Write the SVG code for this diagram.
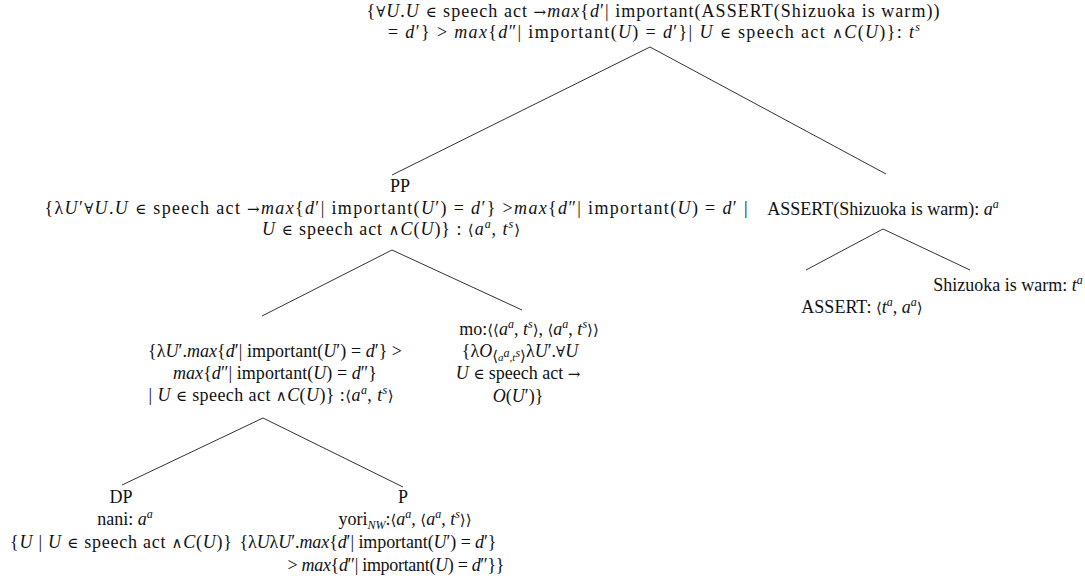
<svg xmlns="http://www.w3.org/2000/svg" width="1085" height="588" viewBox="0 0 1085 588">
<style>
text{font-family:"Liberation Serif","Times New Roman",serif;font-size:18px;fill:#111;text-anchor:middle}
.r{font-family:"Liberation Serif";font-style:normal}
.i{font-family:"Liberation Serif";font-style:italic}
.m{font-family:"DejaVu Serif",serif;font-size:15px;font-style:normal}
.sp{font-family:"Liberation Serif";font-size:12px;font-style:italic}
.sb{font-size:12px}
.edges line{stroke:#333;stroke-width:1}
</style>
<rect width="1085" height="588" fill="#fff"/>
<g class="edges" id="connectors">
<line x1="650" y1="47" x2="392" y2="175"/>
<line x1="650" y1="47" x2="886" y2="174"/>
<line x1="392" y1="250" x2="262" y2="316"/>
<line x1="392" y1="250" x2="522" y2="310"/>
<line x1="883" y1="229" x2="806" y2="270"/>
<line x1="883" y1="229" x2="970" y2="270"/>
<line x1="263" y1="418" x2="122" y2="485"/>
<line x1="263" y1="418" x2="403" y2="487"/>
</g>
<g id="root">
<text x="653" y="17" textLength="573">{<tspan class="m">∀</tspan><tspan class="i">U</tspan>.<tspan class="i">U</tspan> <tspan class="m">∈</tspan><tspan class="r"> speech act </tspan><tspan class="m">→</tspan><tspan class="i">max</tspan><tspan class="r">{</tspan><tspan class="i">d</tspan><tspan class="r">′| important(ASSERT(Shizuoka is warm))</tspan></text>
<text x="654" y="38" textLength="532">= <tspan class="i">d</tspan>′} &gt; <tspan class="i">max</tspan>{<tspan class="i">d</tspan>″| important(<tspan class="i">U</tspan>) = <tspan class="i">d</tspan>′}| <tspan class="i">U</tspan> <tspan class="m">∈</tspan><tspan class="r"> speech act </tspan><tspan class="m">∧</tspan><tspan class="i">C</tspan><tspan class="r">(</tspan><tspan class="i">U</tspan><tspan class="r">)}: </tspan><tspan class="i">t</tspan><tspan class="sp" dy="-7">s</tspan></text>
</g>
<g id="pp">
<text x="400" y="192">PP</text>
<text x="396" y="214" textLength="703">{λ<tspan class="i">U</tspan>′<tspan class="m">∀</tspan><tspan class="i">U</tspan>.<tspan class="i">U</tspan> <tspan class="m">∈</tspan><tspan class="r"> speech act </tspan><tspan class="m">→</tspan><tspan class="i">max</tspan><tspan class="r">{</tspan><tspan class="i">d</tspan><tspan class="r">′| important(</tspan><tspan class="i">U</tspan><tspan class="r">′) = </tspan><tspan class="i">d</tspan><tspan class="r">′} &gt;</tspan><tspan class="i">max</tspan><tspan class="r">{</tspan><tspan class="i">d</tspan><tspan class="r">″| important(</tspan><tspan class="i">U</tspan><tspan class="r">) = </tspan><tspan class="i">d</tspan><tspan class="r">′ |</tspan></text>
<text x="391" y="235" textLength="258"><tspan class="i">U</tspan> <tspan class="m">∈</tspan><tspan class="r"> speech act </tspan><tspan class="m">∧</tspan><tspan class="i">C</tspan><tspan class="r">(</tspan><tspan class="i">U</tspan><tspan class="r">)} : </tspan><tspan class="m">⟨</tspan><tspan class="i">a</tspan><tspan class="sp" dy="-7">a</tspan><tspan class="r" dy="7">, </tspan><tspan class="i">t</tspan><tspan class="sp" dy="-7">s</tspan><tspan class="m" dy="7">⟩</tspan></text>
</g>
<g id="assert-node">
<text x="883" y="215">ASSERT(Shizuoka is warm): <tspan class="i">a</tspan><tspan class="sp" dy="-7">a</tspan></text>
</g>
<g id="shizuoka">
<text x="1008" y="291">Shizuoka is warm: <tspan class="i">t</tspan><tspan class="sp" dy="-7">a</tspan></text>
</g>
<g id="assert-leaf">
<text x="862" y="313">ASSERT: <tspan class="m">⟨</tspan><tspan class="i">t</tspan><tspan class="sp" dy="-7">a</tspan><tspan class="r" dy="7">, </tspan><tspan class="i">a</tspan><tspan class="sp" dy="-7">a</tspan><tspan class="m" dy="7">⟩</tspan></text>
</g>
<g id="left-child">
<text x="275" y="357" textLength="254">{λ<tspan class="i">U</tspan>′.<tspan class="i">max</tspan>{<tspan class="i">d</tspan>′| important(<tspan class="i">U</tspan>′) = <tspan class="i">d</tspan>′} &gt;</text>
<text x="275" y="379" textLength="204"><tspan class="i">max</tspan>{<tspan class="i">d</tspan>″| important(<tspan class="i">U</tspan>) = <tspan class="i">d</tspan>″}</text>
<text x="271" y="401" textLength="245">| <tspan class="i">U</tspan> <tspan class="m">∈</tspan><tspan class="r"> speech act </tspan><tspan class="m">∧</tspan><tspan class="i">C</tspan><tspan class="r">(</tspan><tspan class="i">U</tspan><tspan class="r">)} :</tspan><tspan class="m">⟨</tspan><tspan class="i">a</tspan><tspan class="sp" dy="-7">a</tspan><tspan class="r" dy="7">, </tspan><tspan class="i">t</tspan><tspan class="sp" dy="-7">s</tspan><tspan class="m" dy="7">⟩</tspan></text>
</g>
<g id="mo">
<text x="529" y="335">mo:<tspan class="m">⟨⟨</tspan><tspan class="i">a</tspan><tspan class="sp" dy="-7">a</tspan><tspan class="r" dy="7">, </tspan><tspan class="i">t</tspan><tspan class="sp" dy="-7">s</tspan><tspan class="m" dy="7">⟩</tspan><tspan class="r">, </tspan><tspan class="m">⟨</tspan><tspan class="i">a</tspan><tspan class="sp" dy="-7">a</tspan><tspan class="r" dy="7">, </tspan><tspan class="i">t</tspan><tspan class="sp" dy="-7">s</tspan><tspan class="m" dy="7">⟩⟩</tspan></text>
<text x="520" y="357">{λ<tspan class="i">O</tspan><tspan class="m" font-size="10" dy="4">⟨</tspan><tspan class="i" font-size="11">a</tspan><tspan class="sp" font-size="8" dy="-4">a</tspan><tspan class="r" font-size="11" dy="4">,</tspan><tspan class="i" font-size="11">t</tspan><tspan class="sp" font-size="8" dy="-4">s</tspan><tspan class="m" font-size="10" dy="4">⟩</tspan><tspan class="r" dy="-4">λ</tspan><tspan class="i">U</tspan><tspan class="r">′.</tspan><tspan class="m">∀</tspan><tspan class="i">U</tspan></text>
<text x="518" y="379"><tspan class="i">U</tspan> <tspan class="m">∈</tspan><tspan class="r"> speech act </tspan><tspan class="m">→</tspan></text>
<text x="518" y="402"><tspan class="i">O</tspan>(<tspan class="i">U</tspan>′)}</text>
</g>
<g id="dp">
<text x="121" y="503">DP</text>
<text x="125" y="525">nani: <tspan class="i">a</tspan><tspan class="sp" dy="-7">a</tspan></text>
<text x="121" y="548" textLength="222">{<tspan class="i">U</tspan> | <tspan class="i">U</tspan> <tspan class="m">∈</tspan><tspan class="r"> speech act </tspan><tspan class="m">∧</tspan><tspan class="i">C</tspan><tspan class="r">(</tspan><tspan class="i">U</tspan><tspan class="r">)}</tspan></text>
</g>
<g id="p">
<text x="403" y="503">P</text>
<text x="405" y="525">yori<tspan class="i sb" dy="4">NW</tspan><tspan class="r" dy="-4">:</tspan><tspan class="m">⟨</tspan><tspan class="i">a</tspan><tspan class="sp" dy="-7">a</tspan><tspan class="r" dy="7">, </tspan><tspan class="m">⟨</tspan><tspan class="i">a</tspan><tspan class="sp" dy="-7">a</tspan><tspan class="r" dy="7">, </tspan><tspan class="i">t</tspan><tspan class="sp" dy="-7">s</tspan><tspan class="m" dy="7">⟩⟩</tspan></text>
<text x="368" y="548" textLength="257">{λ<tspan class="i">U</tspan>λ<tspan class="i">U</tspan>′.<tspan class="i">max</tspan>{<tspan class="i">d</tspan>′| important(<tspan class="i">U</tspan>′) = <tspan class="i">d</tspan>′}</text>
<text x="396" y="571" textLength="217">&gt; <tspan class="i">max</tspan>{<tspan class="i">d</tspan>″| important(<tspan class="i">U</tspan>) = <tspan class="i">d</tspan>″}}</text>
</g>
</svg>
